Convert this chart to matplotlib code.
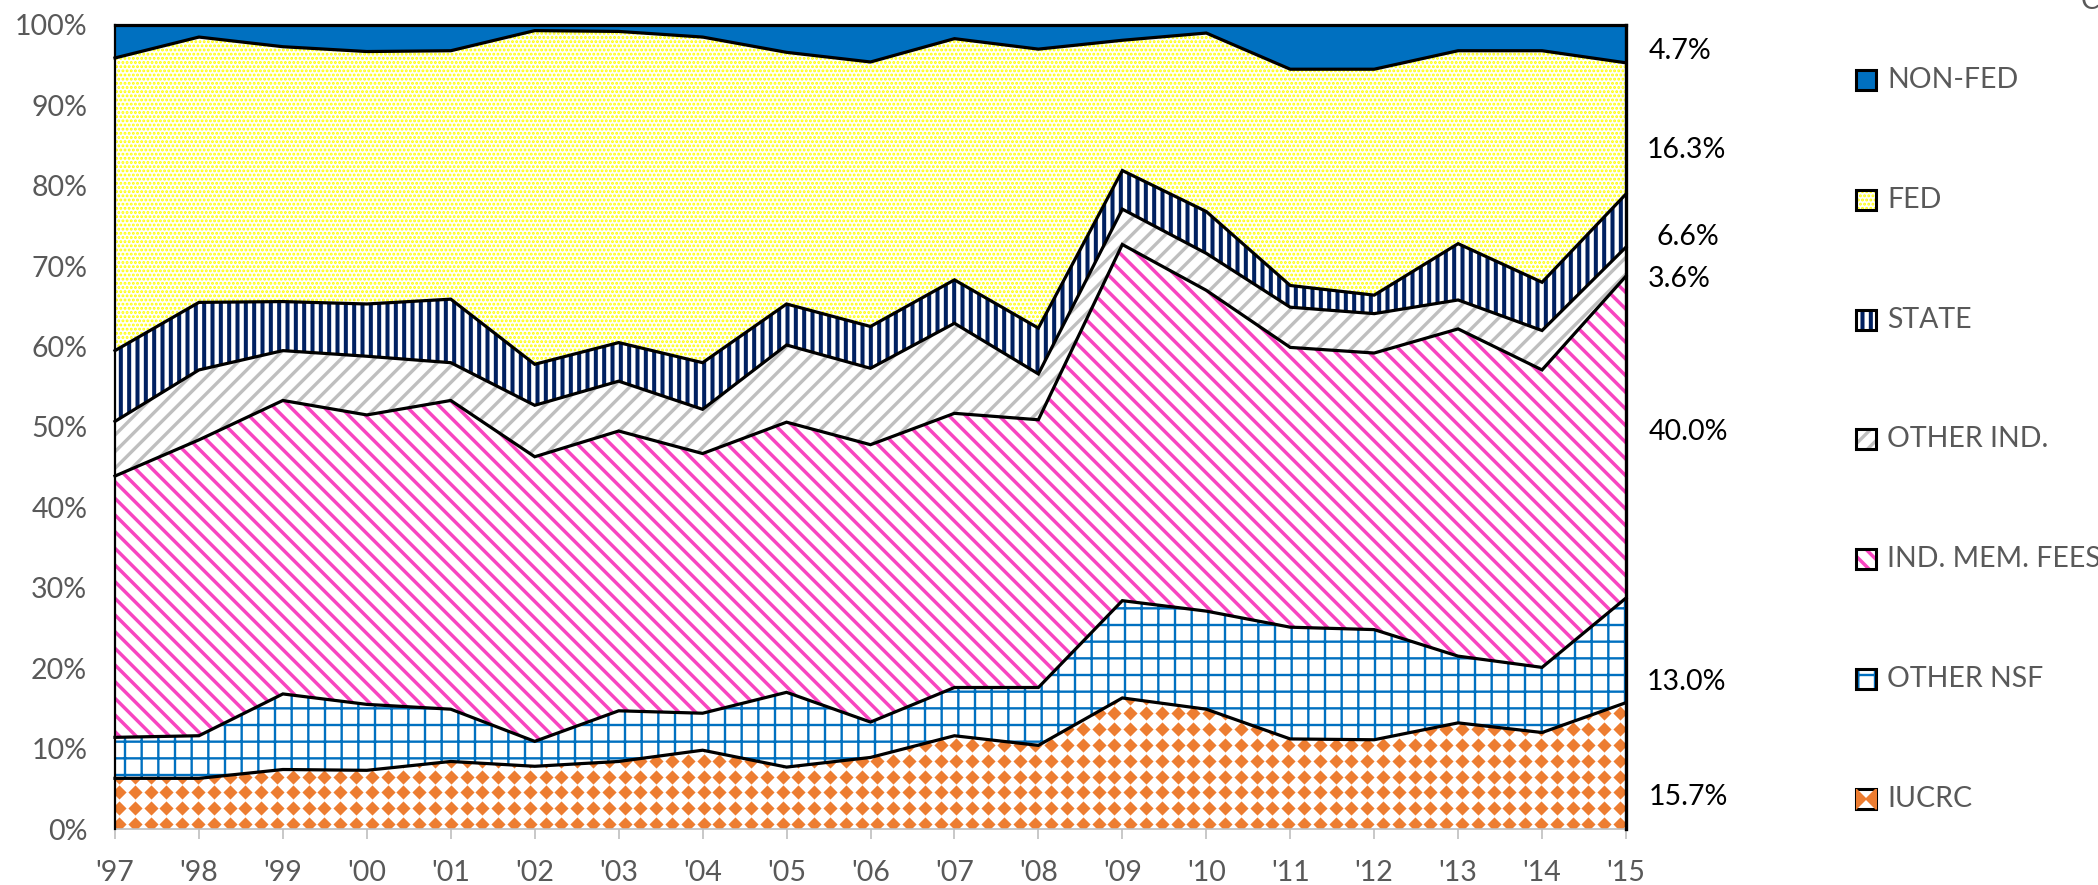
import numpy as np
import matplotlib
matplotlib.use('agg')
import matplotlib.pyplot as plt
from matplotlib.patches import Rectangle, Polygon
from matplotlib.ticker import FuncFormatter

# data (percent of total funding per year)
years = ["'97", "'98", "'99", "'00", "'01", "'02", "'03", "'04", "'05", "'06",
         "'07", "'08", "'09", "'10", "'11", "'12", "'13", "'14", "'15"]
iucrc = [6.3, 6.3, 7.4, 7.3, 8.4, 7.8, 8.4, 9.8, 7.7, 8.9,
         11.6, 10.4, 16.3, 14.9, 11.2, 11.1, 13.2, 12.0, 15.7]
other_nsf = [5.1, 5.3, 9.4, 8.2, 6.5, 3.1, 6.3, 4.6, 9.3, 4.4,
             6.0, 7.2, 12.1, 12.2, 13.9, 13.7, 8.3, 8.1, 13.0]
ind_mem_fees = [32.5, 36.8, 36.5, 36.0, 38.4, 35.4, 34.8, 32.3, 33.6, 34.5,
                34.1, 33.3, 44.3, 39.9, 34.8, 34.4, 40.7, 37.0, 40.0]
other_ind = [6.8, 8.7, 6.2, 7.3, 4.7, 6.4, 6.2, 5.5, 9.6, 9.5,
             11.2, 5.7, 4.4, 4.6, 5.0, 4.9, 3.6, 4.9, 3.6]
state = [8.8, 8.4, 6.1, 6.5, 7.9, 5.1, 4.8, 5.8, 5.1, 5.2,
         5.4, 5.7, 4.8, 5.2, 2.7, 2.3, 7.0, 6.0, 6.6]
fed = [36.4, 33.0, 31.7, 31.4, 30.9, 41.5, 38.7, 40.5, 31.3, 32.9,
       30.0, 34.7, 16.2, 22.2, 26.9, 28.1, 24.0, 28.8, 16.3]
non_fed = [4.1, 1.5, 2.7, 3.3, 3.2, 0.7, 0.8, 1.5, 3.4, 4.6,
           1.7, 3.0, 1.9, 1.0, 5.5, 5.5, 3.2, 3.2, 4.7]
names = ['IUCRC', 'OTHER NSF', 'IND. MEM. FEES', 'OTHER IND.', 'STATE', 'FED', 'NON-FED']

# styles, bottom to top: (pattern colour, hatch, hatch linewidth)
styles = [('#ED7D31', None, 0),
          ('#0070C0', '+', 1.7),
          ('#F845C0', '\\\\', 2.5),
          ('#BFBFBF', '//', 2.4),
          ('#002060', '||', 2.9),
          ('#FFFF00', '....', 1.4),
          ('#0070C0', None, 0)]
# vertical position (in %) of the end-of-series labels, bottom to top
label_y = [4.0, 18.3, 49.4, 68.4, 73.6, 84.5, 96.8]
label_dx = [16, 15, 16, 16, 22, 15, 16]

W, H = 2098, 885
plt.rcParams['font.family'] = ['Lato', 'DejaVu Sans']
fig = plt.figure(figsize=(W / 100, H / 100), dpi=100)
ax = fig.add_axes([115 / W, 56 / H, 1511 / W, 804 / H])
ax.set_xlim(0, len(years) - 1)
ax.set_ylim(0, 100)

x = np.arange(len(years))
stack = np.array([iucrc, other_nsf, ind_mem_fees, other_ind, state, fed, non_fed], dtype=float)
stack = stack / stack.sum(axis=0) * 100
tops = np.cumsum(stack, axis=0)
bottoms = tops - stack

for i, (col, hatch, hlw) in enumerate(styles):
	if i == len(styles) - 1:
		ax.fill_between(x, bottoms[i], tops[i], facecolor=col, linewidth=0, zorder=1)
		continue
	with plt.rc_context({'hatch.linewidth': max(hlw, 0.1)}):
		coll = ax.fill_between(x, bottoms[i], tops[i], facecolor='white',
		                       edgecolor=col, hatch=hatch, linewidth=0, zorder=1)
	if hatch and hasattr(coll, 'set_hatch_linewidth'):
		coll.set_hatch_linewidth(hlw)

# orange diamond texture for IUCRC, clipped to its area
verts = np.vstack([np.column_stack([x, tops[0]]), np.column_stack([x[::-1], bottoms[0][::-1]])])
clip = Polygon(verts, closed=True, transform=ax.transData, facecolor='none', edgecolor='none')
ax.add_patch(clip)
fig.canvas.draw()
bb = ax.get_window_extent()
step = 15.8
gx, gy = np.meshgrid(np.arange(bb.x0 + 4, bb.x1 + step, step),
                     np.arange(bb.y0 + 5, bb.y0 + 0.2 * bb.height, step))
pts = ax.transData.inverted().transform(np.column_stack([gx.ravel(), gy.ravel()]))
sc = ax.scatter(pts[:, 0], pts[:, 1], marker='D', s=52, color='#ED7D31', linewidths=0, zorder=1.5)
sc.set_clip_path(clip)

# black outlines
for i in range(len(styles)):
	ax.plot(x, tops[i], color='black', lw=2.3, zorder=3, clip_on=False, solid_joinstyle='miter')
ax.plot([0, 0], [0, 100], color='black', lw=1.6, zorder=3, clip_on=False)
ax.plot([x[-1], x[-1]], [0, 100], color='black', lw=2.4, zorder=3, clip_on=False)

for s in ['top', 'left', 'right']:
	ax.spines[s].set_visible(False)
ax.spines['bottom'].set_color('#BFBFBF')
ax.spines['bottom'].set_linewidth(1.2)
ax.spines['bottom'].set_zorder(2.5)
ax.set_xticks(x)
ax.set_xticklabels(years)
ax.set_yticks(np.arange(0, 101, 10))
ax.yaxis.set_major_formatter(FuncFormatter(lambda v, p: '%d%%' % v))
ax.tick_params(axis='x', colors='#BFBFBF', length=7, width=1.2, pad=15,
               labelcolor='#595959', labelsize=20.5)
ax.tick_params(axis='y', length=0, pad=20, labelcolor='#595959', labelsize=20.5)

# end-of-series value labels
for i in range(len(styles)):
	ax.annotate('%.1f%%' % stack[i, -1], xy=(x[-1], label_y[i]), xytext=(label_dx[i], 0),
	            textcoords='offset points', ha='left', va='center', fontsize=20.5,
	            color='black', annotation_clip=False)

# legend, drawn by hand (top entry first)
for j, i in enumerate(range(len(styles) - 1, -1, -1)):
	col, hatch, hlw = styles[i]
	yc = 80 + j * 119.8
	x0, y0, sz = 1856, H - yc - 10, 20
	if i == len(styles) - 1:
		fig.add_artist(Rectangle((x0 / W, y0 / H), sz / W, sz / H, transform=fig.transFigure,
		                         facecolor=col, linewidth=0))
	elif hatch:
		with plt.rc_context({'hatch.linewidth': hlw}):
			r = Rectangle((x0 / W, y0 / H), sz / W, sz / H, transform=fig.transFigure,
			              facecolor='white', edgecolor=col, hatch=hatch, linewidth=0)
		if hasattr(r, 'set_hatch_linewidth'):
			r.set_hatch_linewidth(hlw)
		fig.add_artist(r)
	else:
		box = Rectangle((x0 / W, y0 / H), sz / W, sz / H, transform=fig.transFigure,
		                facecolor='white', linewidth=0)
		fig.add_artist(box)
		for xm in (x0, x0 + sz):
			m = fig.add_artist(plt.Line2D([xm / W], [(y0 + sz / 2) / H], transform=fig.transFigure,
			                              marker='D', markersize=11, color=col, markeredgewidth=0))
			m.set_clip_path(box)
	fig.add_artist(Rectangle((x0 / W, y0 / H), sz / W, sz / H, transform=fig.transFigure,
	                         facecolor='none', edgecolor='black', linewidth=2.2))
	fig.text(1887 / W, 1 - yc / H, names[i], ha='left', va='center', fontsize=20.5, color='#595959')

# clipped fragment of text at the top right corner (cut off in the reference too)
fig.text(2081 / W, 1 - 9 / H, 'C', ha='left', va='baseline', fontsize=20, color='#595959')

fig.savefig('out.png', dpi=100)
